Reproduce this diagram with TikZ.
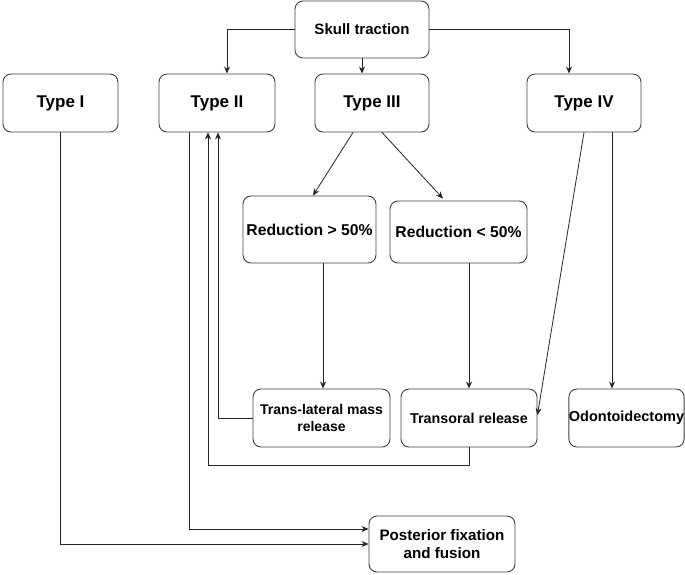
\documentclass[tikz,border=0pt]{standalone}
\usepackage{fontspec}
\setmainfont{Liberation Sans}
\usetikzlibrary{arrows.meta,calc}
\begin{document}
\begin{tikzpicture}[x=1pt,y=-1pt,
  box/.style={draw=black!75,line width=0.9pt,rounded corners=8pt,inner sep=0pt,align=center,font=\bfseries\fontsize{14}{17}\selectfont},
  arr/.style={draw=black!85,line width=0.8pt,-{Stealth[length=7pt,width=6pt]}},
  ln/.style={draw=black!85,line width=0.8pt}]
\useasboundingbox[fill=white] (0,0) rectangle (685,574);
\node[box,minimum width=134pt,minimum height=57pt,font=\bfseries\fontsize{15}{18}\selectfont] (sk) at (362,29.5) {Skull traction};
\node[box,minimum width=115pt,minimum height=58pt,font=\bfseries\fontsize{17}{20}\selectfont] (t1) at (60.5,103) {Type I};
\node[box,minimum width=116pt,minimum height=58pt,font=\bfseries\fontsize{17}{20}\selectfont] (t2) at (217,103) {Type II};
\node[box,minimum width=114pt,minimum height=58pt,font=\bfseries\fontsize{17}{20}\selectfont] (t3) at (372,103) {Type III};
\node[box,minimum width=114pt,minimum height=58pt,font=\bfseries\fontsize{17}{20}\selectfont] (t4) at (584,103) {Type IV};
\node[box,minimum width=133pt,minimum height=67pt,font=\bfseries\fontsize{15.7}{18}\selectfont] (r1) at (309.5,229.5) {Reduction > 50\%};
\node[box,minimum width=137pt,minimum height=62pt,font=\bfseries\fontsize{15.7}{18}\selectfont] (r2) at (458.5,232) {Reduction < 50\%};
\node[box,minimum width=137pt,minimum height=58pt,font=\bfseries\fontsize{14}{16.5}\selectfont] (tl) at (321.5,418) {Trans-lateral mass\\release};
\node[box,minimum width=136pt,minimum height=58pt,font=\bfseries\fontsize{14.3}{17}\selectfont] (tor) at (469,418) {Transoral release};
\node[box,minimum width=115pt,minimum height=58pt,font=\bfseries\fontsize{14.5}{16}\selectfont] (od) at (626.5,418) {Odontoidectomy};
\node[box,minimum width=146pt,minimum height=56pt,font=\bfseries\fontsize{15.2}{18}\selectfont] (po) at (442,544) {Posterior fixation\\and fusion};
% skull traction
\draw[arr] (sk.west) -| ([xshift=10pt]t2.north);
\draw[arr] (sk.south) -- (sk.south |- t3.north);
\draw[arr] (sk.east) -| ([xshift=-15pt]t4.north);
% type III
\draw[arr] ([xshift=-19pt]t3.south) -- ([xshift=3.5pt]r1.north);
\draw[arr] ([xshift=10pt]t3.south) -- ([xshift=-15.5pt,yshift=2pt]r2.north);
\draw[arr] ([xshift=1.5pt]tl.north |- r1.south) -- ([xshift=1.5pt]tl.north);
\draw[arr] (tor.north |- r2.south) -- (tor.north);
% type IV
\draw[arr] (t4.south) -- ([yshift=3pt]tor.east);
\draw[arr] ([xshift=28pt]t4.south) -- ([xshift=28pt]t4.south |- od.north);
% back to type II
\draw[arr] (tl.west) -| ([xshift=1pt]t2.south);
\draw[arr] (tor.south) -- ++(0,18) -| ([xshift=-9pt]t2.south);
% to posterior
\draw[arr] ([xshift=-28pt]t2.south) |- ([yshift=15pt]po.west);
\draw[arr] (t1.south) |- (po.west);
\end{tikzpicture}
\end{document}
